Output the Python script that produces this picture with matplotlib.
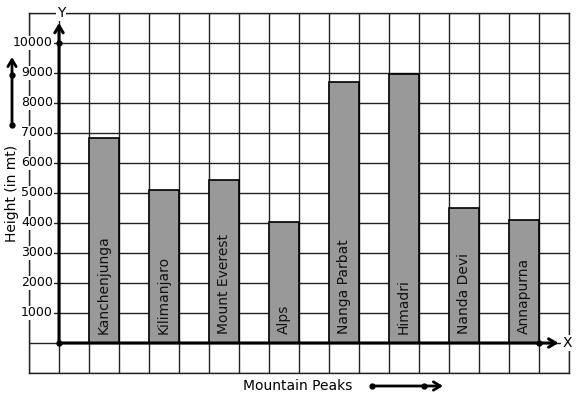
import numpy as np
import matplotlib
matplotlib.use('Agg')
import matplotlib.pyplot as plt

# data
peaks = ['Kanchenjunga', 'Kilimanjaro', 'Mount Everest', 'Alps',
         'Nanga Parbat', 'Himadri', 'Nanda Devi', 'Annapurna']
heights = [6820, 5090, 5450, 4020, 8710, 8960, 4490, 4090]
ytick_vals = [1000, 2000, 3000, 4000, 5000, 6000, 7000, 8000, 9000, 10000]

fig = plt.figure(figsize=(5.77, 3.99), dpi=100)
ax = fig.add_axes([29 / 577, 26 / 399, 540 / 577, 360 / 399])
ax.set_xlim(-1, 17)
ax.set_ylim(-1000, 11000)
ax.set_xticks([])
ax.set_yticks([])
for s in ax.spines.values():
    s.set_linewidth(1.0)
    s.set_color('#222222')

# grid paper
for gx in range(-1, 18):
    ax.axvline(gx, color='#222222', lw=1.0, zorder=1)
for gy in range(-1000, 11001, 1000):
    ax.axhline(gy, color='#222222', lw=1.0, zorder=1)

# bars
x = np.arange(len(peaks)) * 2 + 1.5
ax.bar(x, heights, width=1.0, color='#999999', edgecolor='black', lw=1.2, zorder=2)
for xi, name in zip(x, peaks):
    ax.text(xi, 300, name, rotation=90, ha='center', va='bottom',
            fontsize=10, color='#111111', zorder=3)

# y tick labels with white background
for v in ytick_vals:
    ax.text(-0.2, v, str(v), ha='right', va='center', fontsize=9,
            bbox=dict(facecolor='white', edgecolor='none', pad=0.5), zorder=3)

# axes with arrows
arr = dict(arrowstyle='->,head_length=0.5,head_width=0.3', lw=2.2, color='black',
           shrinkA=0, shrinkB=0)
ax.annotate('', xy=(0, 10670), xytext=(0, 0), arrowprops=arr, zorder=4)
ax.annotate('', xy=(16.65, 0), xytext=(0, 0), arrowprops=arr, zorder=4)
ax.plot([0, 0, 16], [0, 10000, 0], 'o', color='black', ms=3.5, zorder=5)
ax.text(0.07, 11000, 'Y', ha='center', va='center', fontsize=10,
        bbox=dict(facecolor='white', edgecolor='none', pad=0.5), zorder=3)
ax.text(16.93, 0, 'X', ha='center', va='center', fontsize=10,
        bbox=dict(facecolor='white', edgecolor='none', pad=0.5), zorder=3)

# axis titles with decorative arrows (figure coords)
W, H = 577, 399
fig.text(298 / W, 1 - 386 / H, 'Mountain Peaks', ha='center', va='center', fontsize=10)
fig.text(12 / W, 1 - 193 / H, 'Height (in mt)', rotation=90, ha='center', va='center', fontsize=10)
farr = dict(arrowstyle='->,head_length=0.5,head_width=0.3', lw=2.0, color='black',
            shrinkA=0, shrinkB=0)
ax.annotate('', xy=(443 / W, 1 - 386 / H), xytext=(372 / W, 1 - 386 / H),
            xycoords='figure fraction', textcoords='figure fraction', arrowprops=farr,
            annotation_clip=False)
ax.annotate('', xy=(12 / W, 1 - 57 / H), xytext=(12 / W, 1 - 125 / H),
            xycoords='figure fraction', textcoords='figure fraction', arrowprops=farr,
            annotation_clip=False)
fig.add_artist(plt.Line2D([372 / W, 424 / W], [1 - 386 / H, 1 - 386 / H], marker='o',
                          ls='none', color='black', ms=3.5, transform=fig.transFigure))
fig.add_artist(plt.Line2D([12 / W, 12 / W], [1 - 125 / H, 1 - 75 / H], marker='o',
                          ls='none', color='black', ms=3.5, transform=fig.transFigure))

fig.savefig('out.png', dpi=100)
